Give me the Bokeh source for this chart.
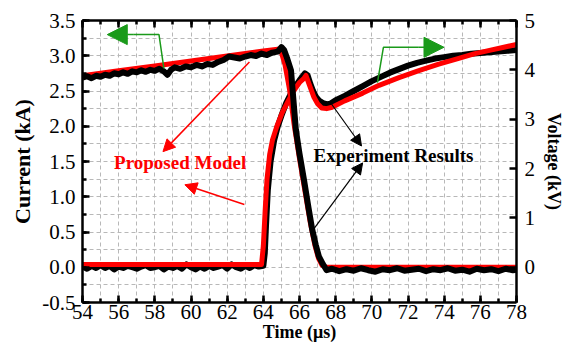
from bokeh.plotting import figure
from bokeh.models import (Range1d, LinearAxis, SingleIntervalTicker, Label, Arrow,
                          NormalHead, NumeralTickFormatter, CustomJSTickFormatter)
from bokeh.embed import file_html
from bokeh.resources import INLINE

# ---------------- data ----------------
# Proposed model (red)
t_model_i = [54.0, 63.9, 64.0, 64.1, 64.2, 64.35, 64.5, 64.75, 65.04, 65.4, 65.7, 66.0, 66.25,
             66.36, 66.5, 66.8, 67.0, 67.23, 67.5, 67.8, 68.5, 69.5, 70.4, 71.5, 72.6, 73.7,
             74.76, 75.7, 76.57, 77.3, 78.0]
i_model = [0.04, 0.04, 0.3, 0.8, 1.24, 1.6, 1.8, 2.0, 2.19, 2.37, 2.51, 2.62, 2.68,
           2.72, 2.62, 2.41, 2.32, 2.26, 2.25, 2.27, 2.36, 2.47, 2.58, 2.69, 2.79, 2.88,
           2.96, 3.03, 3.08, 3.12, 3.16]
t_model_v = [54.0, 56.0, 58.0, 60.0, 62.0, 64.0, 64.8, 65.0, 65.2, 65.45, 65.7, 66.0, 66.3,
             66.6, 66.85, 67.05, 67.25, 67.5, 78.0]
v_model = [3.88, 3.98, 4.08, 4.18, 4.28, 4.38, 4.42, 4.35, 4.1, 3.6, 2.9, 2.2, 1.55,
           0.9, 0.45, 0.18, 0.04, 0.0, 0.0]

# Experiment results (black)
t_exp_i = [54.0, 54.25, 54.5, 54.75, 55.0, 55.25, 55.5, 55.75, 56.0, 56.25, 56.5, 56.75,
           57.0, 57.25, 57.5, 57.75, 58.0, 58.25, 58.5, 58.75, 59.0, 59.25, 59.5, 59.75,
           60.0, 60.25, 60.5, 60.75, 61.0, 61.25, 61.5, 61.75, 62.0, 62.25, 62.5, 62.75,
           63.0, 63.25, 63.5, 63.75, 64.0, 64.08, 64.15, 64.25, 64.4, 64.6, 64.8, 65.0,
           65.25, 65.5, 65.75, 66.0, 66.15, 66.3, 66.45, 66.6, 66.75, 66.9, 67.1, 67.3,
           67.5, 67.7, 68.0, 68.5, 69.0, 69.5, 70.0, 70.5, 71.0, 71.5, 72.0, 72.5, 73.0,
           73.5, 74.0, 74.5, 75.0, 75.5, 76.0, 76.5, 77.0, 77.5, 78.0]
i_exp = [0.01, -0.02, 0.02, -0.01, 0.03, -0.01, 0.02, -0.03, 0.01, -0.01, 0.02, 0.0,
         -0.02, 0.01, 0.03, -0.01, 0.0, 0.02, -0.03, 0.01, -0.01, 0.02, -0.02, 0.04,
         0.0, -0.03, 0.01, -0.02, 0.02, -0.01, 0.01, 0.03, -0.02, 0.04, 0.0, -0.02,
         0.02, -0.01, 0.03, 0.01, 0.02, 0.2, 0.6, 1.1, 1.5, 1.8, 2.0, 2.15,
         2.32, 2.45, 2.56, 2.65, 2.7, 2.75, 2.72, 2.6, 2.5, 2.42, 2.36, 2.33,
         2.31, 2.32, 2.37, 2.43, 2.5, 2.57, 2.64, 2.7, 2.76, 2.81, 2.86, 2.9, 2.93,
         2.96, 2.98, 3.0, 3.01, 3.03, 3.04, 3.05, 3.06, 3.07, 3.08]
t_exp_v = [54.0, 54.25, 54.5, 54.75, 55.0, 55.25, 55.5, 55.75, 56.0, 56.25, 56.5, 56.75,
           57.0, 57.25, 57.5, 57.75, 58.0, 58.25, 58.5, 58.7, 58.9, 59.1, 59.4, 59.7,
           60.0, 60.3, 60.6, 60.9, 61.2, 61.5, 61.8, 62.1, 62.4, 62.7, 63.0, 63.3,
           63.6, 63.9, 64.2, 64.5, 64.8, 65.0, 65.15, 65.3, 65.53, 65.8, 66.0, 66.25,
           66.5, 66.7, 66.9, 67.07, 67.3, 67.5, 67.8, 68.2, 68.6, 69.0, 69.4, 69.8,
           70.2, 70.6, 71.0, 71.4, 71.8, 72.2, 72.6, 73.0, 73.4, 73.8, 74.2, 74.6,
           75.0, 75.4, 75.8, 76.2, 76.6, 77.0, 77.4, 77.8, 78.0]
v_exp = [3.84, 3.87, 3.83, 3.88, 3.86, 3.9, 3.88, 3.93, 3.91, 3.95, 3.92, 3.97,
         3.95, 3.99, 3.96, 4.0, 3.98, 4.02, 3.97, 3.9, 4.0, 4.05, 4.02, 4.07,
         4.05, 4.1, 4.07, 4.12, 4.1, 4.16, 4.2, 4.27, 4.25, 4.23, 4.27, 4.3,
         4.28, 4.33, 4.3, 4.35, 4.37, 4.46, 4.4, 4.25, 3.99, 2.78, 2.3, 1.77,
         1.2, 0.77, 0.45, 0.22, 0.06, -0.06, -0.03, -0.08, -0.04, -0.07, -0.02, -0.06,
         -0.09, -0.04, -0.06, -0.02, -0.07, -0.05, -0.03, -0.08, -0.04, -0.06, -0.02, -0.07,
         -0.05, -0.09, -0.03, -0.06, -0.04, -0.08, -0.03, -0.06, -0.05]

FONT = "'Liberation Serif'"
GREEN = "#1a9a1a"

p = figure(width=567, height=344, output_backend="svg", toolbar_location=None,
           x_range=Range1d(54, 78), y_range=Range1d(-0.5, 3.5),
           min_border_left=82, min_border_right=48, min_border_top=20, min_border_bottom=41)
p.extra_y_ranges = {"v": Range1d(-0.5 / 0.7, 5)}
p.outline_line_color = None
p.border_fill_color = "white"

def style_axis(ax, fs="21px"):
    ax.axis_line_width = 2.5
    ax.axis_line_color = "black"
    ax.major_tick_in = 7
    ax.major_tick_out = 0
    ax.minor_tick_in = 4
    ax.minor_tick_out = 0
    ax.major_tick_line_width = 2.5
    ax.minor_tick_line_width = 2.5
    ax.major_label_text_font = FONT
    ax.major_label_text_font_size = fs
    ax.major_label_text_color = "black"
    ax.axis_label_text_font = FONT
    ax.axis_label_text_font_style = "bold"
    ax.axis_label_text_color = "black"

xb = p.xaxis[0]
xb.ticker = SingleIntervalTicker(interval=2, num_minor_ticks=2)
style_axis(xb)
xb.major_label_standoff = 2
xb.axis_label = "Time (\u03bcs)"
xb.axis_label_text_font_size = "18px"
xb.axis_label_standoff = 0

yl = p.yaxis[0]
yl.ticker = SingleIntervalTicker(interval=0.5, num_minor_ticks=2)
yl.formatter = NumeralTickFormatter(format="0.0")
style_axis(yl)
yl.major_label_standoff = 7
yl.axis_label = "Current (kA)"
yl.axis_label_text_font_size = "22px"
yl.axis_label_standoff = 4

xt = LinearAxis(ticker=SingleIntervalTicker(interval=2, num_minor_ticks=2),
                formatter=CustomJSTickFormatter(code="return ''"))
style_axis(xt, fs="1px")
xt.major_label_standoff = 0
p.add_layout(xt, "above")

yr = LinearAxis(y_range_name="v", ticker=SingleIntervalTicker(interval=1, num_minor_ticks=0))
style_axis(yr)
yr.minor_tick_line_color = None
yr.major_label_standoff = 8
yr.axis_label = "Voltage (kV)"
yr.axis_label_text_font_size = "18px"
yr.axis_label_standoff = 6
p.add_layout(yr, "right")

for g in (p.xgrid[0], p.ygrid[0]):
    g.grid_line_color = None
    g.minor_grid_line_color = "#b8b8b8"
    g.minor_grid_line_dash = "4 3"
    g.minor_grid_line_width = 1

# curves
p.line(t_exp_i, i_exp, line_color="black", line_width=6, line_join="round")
p.line(t_model_i, i_model, line_color="#ff0000", line_width=5, line_join="round")
p.line(t_model_v, v_model, line_color="#ff0000", line_width=5, line_join="round", y_range_name="v")
p.line(t_exp_v, v_exp, line_color="black", line_width=6, line_join="round", y_range_name="v")

# green arrows (axis indicators)
p.line([58.5, 58.23, 56.8], [2.82, 3.30, 3.30], line_color=GREEN, line_width=1.5)
p.add_layout(Arrow(end=NormalHead(size=20, fill_color=GREEN, line_color=GREEN),
                   x_start=56.8, y_start=3.30, x_end=55.37, y_end=3.30,
                   line_color=GREEN, line_width=1.5))
p.line([70.31, 70.64, 72.6], [2.62, 3.12, 3.12], line_color=GREEN, line_width=1.5)
p.add_layout(Arrow(end=NormalHead(size=20, fill_color=GREEN, line_color=GREEN),
                   x_start=72.6, y_start=3.12, x_end=73.99, y_end=3.12,
                   line_color=GREEN, line_width=1.5))

# red arrows
for xs, ys, xe, ye in [(63.23, 2.91, 58.45, 1.64), (62.95, 0.89, 59.66, 1.17)]:
    p.add_layout(Arrow(end=NormalHead(size=12, fill_color="red", line_color="red"),
                       x_start=xs, y_start=ys, x_end=xe, y_end=ye,
                       line_color="red", line_width=1.5))
# black arrows
for xs, ys, xe, ye in [(67.73, 2.33, 69.43, 1.72), (66.69, 0.51, 69.49, 1.48)]:
    p.add_layout(Arrow(end=NormalHead(size=11, fill_color="black", line_color="black"),
                       x_start=xs, y_start=ys, x_end=xe, y_end=ye,
                       line_color="black", line_width=1.2))

# texts
p.add_layout(Label(x=59.4, y=1.48, text="Proposed Model", text_font=FONT,
                   text_font_style="bold", text_font_size="19px", text_color="red",
                   text_align="center", text_baseline="middle"))
p.add_layout(Label(x=71.2, y=1.59, text="Experiment Results", text_font=FONT,
                   text_font_style="bold", text_font_size="19px", text_color="black",
                   text_align="center", text_baseline="middle"))

open("out.html", "w").write(file_html(p, INLINE))
